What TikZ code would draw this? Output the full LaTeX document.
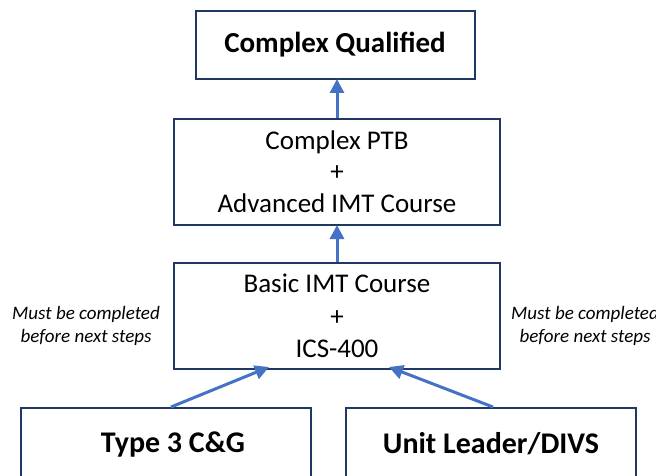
\documentclass[tikz,border=0pt]{standalone}
\usepackage{fontspec}
\setmainfont{Carlito}
\usetikzlibrary{arrows.meta}
\definecolor{boxline}{HTML}{203864}
\definecolor{arrowblue}{HTML}{4472C4}
\tikzset{
  box/.style={draw=boxline, line width=2pt, rectangle, inner sep=0pt, align=center, text=black},
  arr/.style={draw=arrowblue, line width=3pt, -{Triangle[length=14pt,width=14pt]}},
  note/.style={font=\fontsize{19}{23}\selectfont\itshape, align=center, inner sep=0pt}
}
\begin{document}
\begin{tikzpicture}[x=1pt,y=-1pt]
\useasboundingbox (0,0) rectangle (656,476);
\clip (0,0) rectangle (656,476);
\node[box, minimum width=279pt, minimum height=68pt, font=\fontsize{29}{34}\selectfont\bfseries] (cq) at (335,45) {Complex Qualified};
\node[box, minimum width=326pt, minimum height=106pt, font=\fontsize{27}{32.5}\selectfont] (ptb) at (337,172) {\raisebox{-2pt}{Complex PTB}\\+\\Advanced IMT Course};
\node[box, minimum width=326pt, minimum height=106pt, font=\fontsize{27}{32.5}\selectfont] (basic) at (337,316) {Basic IMT Course\\+\\ICS-400};
\node[box, minimum width=290pt, minimum height=72pt, font=\fontsize{30}{36}\selectfont\bfseries] (t3) at (166,444) {\hspace*{14pt}Type 3 C\&G};
\node[box, minimum width=290pt, minimum height=72pt, font=\fontsize{30}{36}\selectfont\bfseries] (ul) at (491,444) {Unit Leader/DIVS};
\node[note] (nl) at (86,326) {Must be completed\\before next steps};
\node[note] (nr) at (585,326) {Must be completed\\before next steps};
\draw[arr] (ptb.north) -- ([yshift=1pt]ptb.north |- cq.south);
\draw[arr] (basic.north) -- ([yshift=1pt]ptb.south);
\draw[arr] ([xshift=5pt]t3.north) -- ([xshift=-68pt,yshift=3pt]basic.south);
\draw[arr] ([xshift=2pt]ul.north) -- ([xshift=52pt,yshift=3pt]basic.south);
\end{tikzpicture}
\end{document}
